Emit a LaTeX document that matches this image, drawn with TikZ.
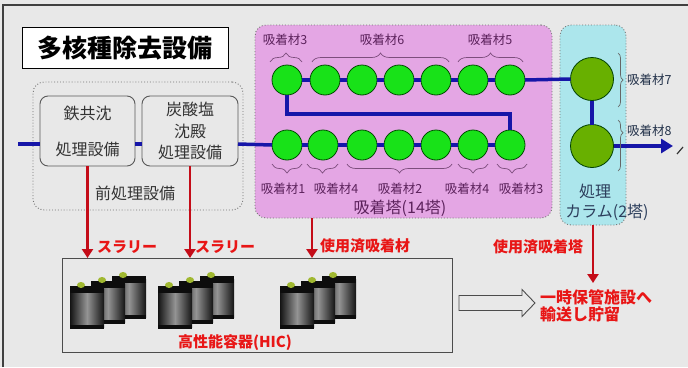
\documentclass[tikz,border=0pt]{standalone}
\usepackage{fontspec}
\newfontfamily\jp{Noto Sans CJK JP}
\usetikzlibrary{arrows.meta,decorations.pathreplacing,calc}
\newcommand\fsz[2]{\fontsize{#1}{#2}\selectfont}

\definecolor{bg}{RGB}{232,232,232}
\definecolor{pinkfill}{RGB}{228,166,228}
\definecolor{cyanfill}{RGB}{172,230,236}
\definecolor{pipeblue}{RGB}{22,22,168}
\definecolor{tankgreen}{RGB}{24,226,24}
\definecolor{colgreen}{RGB}{104,176,0}
\definecolor{redline}{RGB}{196,12,24}
\definecolor{redtext}{RGB}{232,22,22}
\definecolor{purptext}{RGB}{92,34,92}
\definecolor{cyantext}{RGB}{44,62,92}
\definecolor{knob}{RGB}{160,184,48}

\tikzset{
  procbox/.style={draw=black!65, line width=0.9pt, rounded corners=8pt, fill=bg,
    inner sep=0pt, outer sep=0pt, align=center, text=black!80},
  groupbox/.style={draw=black!55, dotted, line width=0.9pt, rounded corners=11pt,
    inner sep=0pt, outer sep=0pt},
  adsorber/.style={circle, draw=green!30!black, line width=0.8pt, fill=tankgreen,
    minimum size=30pt, inner sep=0pt, outer sep=0pt},
  colvessel/.style={circle, draw=green!25!black, line width=0.8pt, fill=colgreen,
    minimum size=43pt, inner sep=0pt, outer sep=0pt},
  pipe/.style={draw=pipeblue, line width=3.5pt},
  drop/.style={draw=redline, line width=2.8pt, -{Triangle[width=11pt,length=9pt]}},
  redlabel/.style={font=\jp\bfseries\fsz{15}{18}, text=redtext, inner sep=0pt},
  matlabel/.style={font=\jp\fsz{12.5}{14}, text=purptext, inner sep=0pt},
  collabel/.style={font=\jp\fsz{12.5}{14}, text=cyantext!80!black, inner sep=0pt},
  grplabel/.style={font=\jp\fsz{16}{20}, inner sep=0pt},
  bracket/.style={draw=purptext!80, line width=0.7pt, decorate,
    decoration={brace, amplitude=#1}},
  hiccan/.pic={
    \shade[left color=black!92, right color=black!92, middle color=black!42]
      (0,4) rectangle (34,42);
    \fill[black!95] (0,1) rectangle (34,8);
    \fill[black!95] (0,40) rectangle (34,44);
    \fill[knob] (11,0) ellipse (4pt and 3pt);
  }
}

\begin{document}
\begin{tikzpicture}[x=1pt,y=-1pt]
  \fill[bg] (0,0) rectangle (688,367);
  \useasboundingbox (0,0) rectangle (688,367);
  % frame edges
  \draw[black!75, line width=1.4pt] (3,367) -- (3,5) -- (688,5);

  % title
  \node[draw=black, line width=1pt, fill=white, minimum width=206pt, minimum height=41pt,
        inner sep=0pt, font=\jp\bfseries\fsz{25}{28}] (title) at (125,48) {多核種除去設備};

  % pre-treatment
  \node[groupbox, minimum width=210pt, minimum height=128pt] (pre) at (138,146) {};
  \node[grplabel, text=black!80] (prelbl) at (135,193) {前処理設備};
  \node[procbox, minimum width=95pt, minimum height=70pt, font=\jp\fsz{16}{20}]
    (pre1) at (87.5,131) {鉄共沈\\[16pt]処理設備};
  \node[procbox, minimum width=96pt, minimum height=70pt, font=\jp\fsz{16}{21.5}]
    (pre2) at (190,131) {炭酸塩\\沈殿\\処理設備};

  % adsorption towers
  \node[groupbox, fill=pinkfill, minimum width=297pt, minimum height=193pt] (tower) at (403.5,121.5) {};
  \node[grplabel, text=purptext] (towerlbl) at (400,208) {吸着塔(14塔)};
  \foreach \i/\x in {1/287,2/325,3/362,4/399,5/436,6/473,7/510} {
    \node[adsorber] (t\i) at (\x,80) {};
  }
  \foreach \i/\x in {1/287,2/323,3/362,4/399,5/436,6/473,7/510} {
    \node[adsorber] (b\i) at (\x,145) {};
  }

  % treatment columns
  \node[groupbox, fill=cyanfill, minimum width=66pt, minimum height=200pt] (col) at (593,125) {};
  \node[grplabel, text=cyantext] (collbl1) at (595,191) {処理};
  \node[grplabel, text=cyantext] (collbl2) at (607,212) {カラム(2塔)};
  \node[colvessel] (c1) at (592,79) {};
  \node[colvessel] (c2) at (592,146) {};

  % pipes
  \coordinate (feed) at (18,144);
  \coordinate (turn) at (510,114);
  \coordinate (outlet) at (673,146);
  \draw[pipe] (feed) -- (feed -| pre1.west);
  \draw[pipe] (pre1.east |- feed) -- (pre2.west |- feed);
  \draw[pipe] (pre2.east |- feed) -- (b1.west);
  \foreach \i/\j in {1/2,2/3,3/4,4/5,5/6,6/7} {
    \draw[pipe] (b\i.east) -- (b\j.west);
    \draw[pipe] (t\i.east) -- (t\j.west);
  }
  \draw[pipe] (b7.north) -- (turn) -- (turn -| t1) -- (t1.south);
  \draw[pipe] (t7.east) -- (c1.west);
  \draw[pipe] (c1.south) -- (c2.north);
  \draw[pipe, -{Triangle[width=14pt,length=12pt]}] (c2.east) -- (outlet);
  \draw[black!80, line width=1.2pt] (677,154) -- (683,147);

  % adsorbent brackets and labels, upper row
  \draw[bracket=9pt] (270,62) -- (302,62);
  \draw[bracket=9pt] (312,62) -- (449,62);
  \draw[bracket=9pt] (458,62) -- (523,62);
  \node[matlabel] (m3a) at (285,40) {吸着材3};
  \node[matlabel] (m6) at (382,40) {吸着材6};
  \node[matlabel] (m5) at (490,40) {吸着材5};
  % lower row
  \draw[bracket=9pt] (302,164) -- (272,164);
  \draw[bracket=9pt] (338,164) -- (307,164);
  \draw[bracket=9pt] (452,164) -- (347,164);
  \draw[bracket=9pt] (488,164) -- (458,164);
  \draw[bracket=9pt] (527,164) -- (497,164);
  \node[matlabel] (m1) at (283,189) {吸着材1};
  \node[matlabel] (m4a) at (336,189) {吸着材4};
  \node[matlabel] (m2) at (400,189) {吸着材2};
  \node[matlabel] (m4b) at (467,189) {吸着材4};
  \node[matlabel] (m3b) at (521,189) {吸着材3};
  % column brackets
  \draw[bracket=5pt, draw=black!60] (618,53) -- (618,107);
  \draw[bracket=5pt, draw=black!60, decoration={aspect=0.25}] (618,120) -- (618,171);
  \node[collabel, anchor=west] (m7) at (627,80) {吸着材7};
  \node[collabel, anchor=west] (m8) at (627,131) {吸着材8};

  % high integrity containers
  \node[draw=black!70, line width=0.9pt, minimum width=390pt, minimum height=94pt,
        inner sep=0pt, outer sep=0pt] (hic) at (257,305) {};
  \foreach \gx in {70,158,280} {
    \foreach \dx/\dy in {42/-10,21/-5,0/0} {
      \pic at (\gx+\dx,285+\dy) {hiccan};
    }
  }
  \node[redlabel] (hiclbl) at (235,343) {高性能容器(HIC)};

  % storage destination
  \node[redlabel, font=\jp\bfseries\fsz{16}{17}, align=left, anchor=north west]
    (store) at (540,289) {一時保管施設へ\\輸送し貯留};

  % red transfer arrows
  \coordinate (drop3) at (312,0);
  \draw[drop] (pre1.south) -- (pre1.south |- hic.north);
  \draw[drop] (pre2.south) -- (pre2.south |- hic.north);
  \draw[drop] (tower.south -| drop3) -- (hic.north -| drop3);
  \draw[drop] (col.south) -- ($(col.south |- store.north)+(0,-6)$);
  \node[redlabel, anchor=west] (slurry1) at (97,247) {スラリー};
  \node[redlabel, anchor=west] (slurry2) at (195,247) {スラリー};
  \node[redlabel, anchor=west] (spent1) at (320,246) {使用済吸着材};
  \node[redlabel] (spent2) at (538,247) {使用済吸着塔};

  % hollow transfer arrow
  \coordinate (ha) at ($(hic.east)+(7,-2)$);
  \coordinate (hb) at ($(store.west |- ha)+(-5,0)$);
  \draw[black!70, line width=0.9pt, fill=bg]
    ($(ha)+(0,-7.5)$) -- ($(hb)+(-13,-7.5)$) -- ($(hb)+(-13,-13.5)$) -- (hb)
    -- ($(hb)+(-13,13.5)$) -- ($(hb)+(-13,7.5)$) -- ($(ha)+(0,7.5)$) -- cycle;
\end{tikzpicture}
\end{document}
